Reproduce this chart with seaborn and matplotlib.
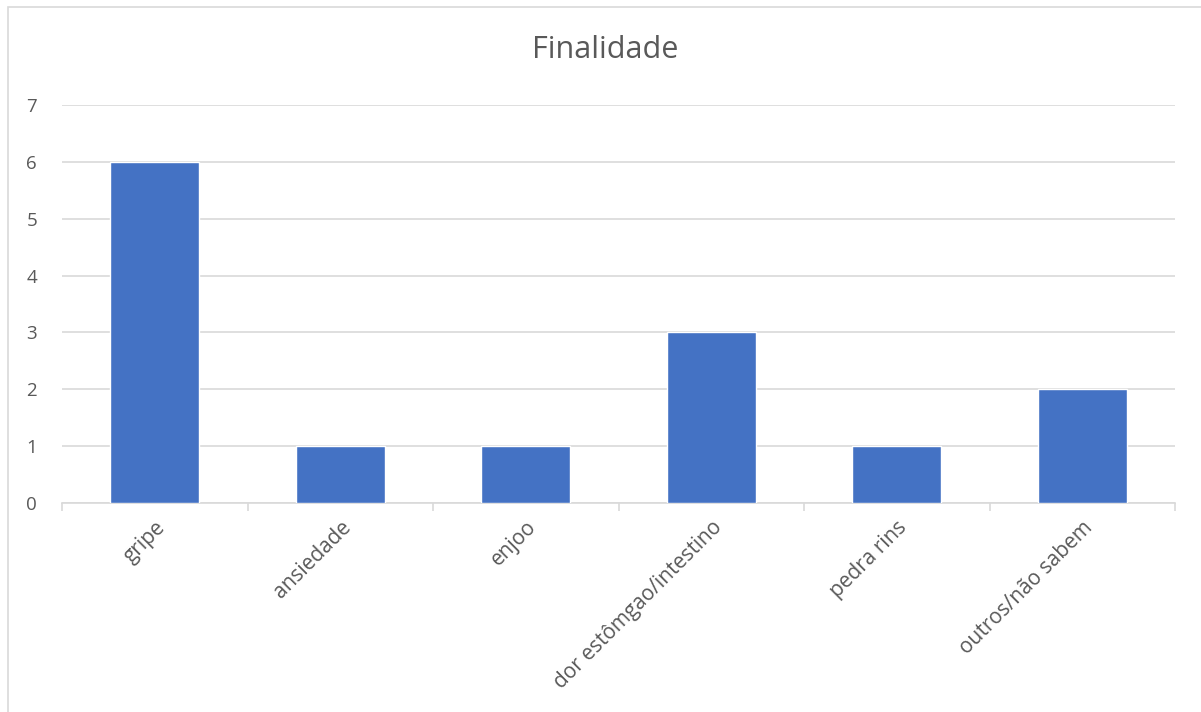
import matplotlib
matplotlib.use("Agg")
import matplotlib.pyplot as plt
import seaborn as sns
import pandas as pd
from matplotlib.patches import Rectangle

categorias = ["gripe", "ansiedade", "enjoo", "dor estômgao/intestino", "pedra rins", "outros/não sabem"]
valores = [6, 1, 1, 3, 1, 2]
titulo = "Finalidade"

sns.set_theme(style="white")
plt.rcParams['font.family'] = ['Open Sans', 'DejaVu Sans']

df = pd.DataFrame({"cat": categorias, "val": valores})

fig = plt.figure(figsize=(12.01, 7.12), dpi=100)
ax = fig.add_axes([62/1201, 1-503/712, (1175-62)/1201, (503-105)/712])

sns.barplot(data=df, x="cat", y="val", color="#4472C4", width=0.48, saturation=1, ax=ax, zorder=3)

ax.set_ylim(0, 7)
ax.set_xlim(-0.5, len(categorias)-0.5)
ax.set_yticks(range(0, 8))
ax.yaxis.grid(True, color="#d9d9d9", linewidth=1.2, zorder=0)
ax.set_axisbelow(True)
for s in ["top", "right", "left"]:
    ax.spines[s].set_visible(False)
ax.spines["bottom"].set_color("#d9d9d9")
ax.spines["bottom"].set_linewidth(1.2)
ax.set_xlabel("")
ax.set_ylabel("")

# category boundary ticks
ax.set_xticks([i - 0.5 for i in range(len(categorias)+1)], minor=True)
ax.tick_params(axis="x", which="minor", length=6, color="#d9d9d9", width=1.2, bottom=True)
ax.tick_params(axis="x", which="major", length=0, pad=10)
ax.tick_params(axis="y", length=0, pad=18, labelcolor="#595959", labelsize=13.5)
ax.set_xticks(range(len(categorias)))
ax.set_xticklabels(categorias, rotation=45, ha="right", rotation_mode="anchor",
                   color="#595959", fontsize=15)

fig.text(605/1201, 1-50/712, titulo, ha="center", va="center", fontsize=22, color="#595959")

fig.patches.append(Rectangle((8/1201, -0.01), 1.0, 1-7/712+0.01, transform=fig.transFigure,
                             fill=False, edgecolor="#d9d9d9", linewidth=1.2))

fig.savefig("out.png", dpi=100)
